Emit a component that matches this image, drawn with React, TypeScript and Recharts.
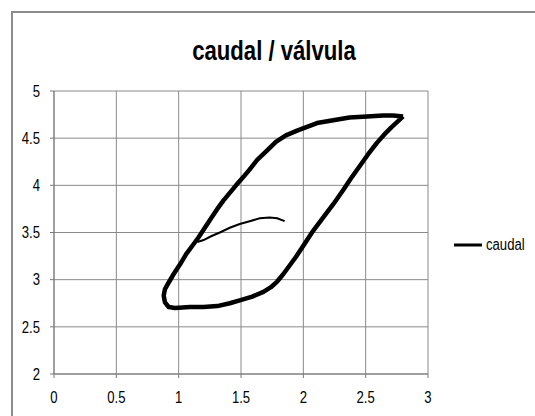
import { CartesianGrid, Scatter, ScatterChart, XAxis, YAxis } from "recharts";

const FONT = "'Liberation Sans', Arial, sans-serif";
const NARROW = 0.82;

const xTicks = [0, 0.5, 1, 1.5, 2, 2.5, 3];
const yTicks = [2, 2.5, 3, 3.5, 4, 4.5, 5];

// main hysteresis loop (starts at the top-right corner)
const loopX = [
  2.8, 2.72, 2.64, 2.51, 2.37, 2.24, 2.11, 2.03, 1.95, 1.86, 1.78, 1.71, 1.63,
  1.57, 1.52, 1.46, 1.41, 1.36, 1.31, 1.26, 1.21, 1.16, 1.11, 1.06, 1.01, 0.96,
  0.92, 0.89, 0.88, 0.89, 0.92, 0.97, 1.09, 1.2, 1.31, 1.41, 1.49, 1.59, 1.68,
  1.74, 1.79, 1.84, 1.89, 1.94, 2.0, 2.08, 2.16, 2.24, 2.32, 2.38, 2.45, 2.52,
  2.59, 2.65, 2.71, 2.76, 2.8,
];
const loopY = [
  4.73, 4.74, 4.74, 4.73, 4.72, 4.69, 4.66, 4.62, 4.58, 4.53, 4.46, 4.37, 4.27,
  4.17, 4.09, 4.0, 3.92, 3.84, 3.75, 3.65, 3.55, 3.45, 3.36, 3.27, 3.16, 3.06,
  2.97, 2.9, 2.83, 2.76, 2.71, 2.7, 2.71, 2.71, 2.72, 2.75, 2.78, 2.82, 2.87,
  2.92, 2.98, 3.06, 3.15, 3.24, 3.36, 3.52, 3.66, 3.8, 3.95, 4.07, 4.2, 4.33,
  4.45, 4.54, 4.62, 4.68, 4.73,
];

// thin first-pass segment inside the loop
const tailX = [1.15, 1.2, 1.26, 1.33, 1.41, 1.49, 1.57, 1.65, 1.73, 1.79, 1.85];
const tailY = [3.4, 3.42, 3.46, 3.5, 3.55, 3.59, 3.62, 3.65, 3.66, 3.65, 3.62];

const toPoints = (xs: number[], ys: number[]) =>
  xs.map((x, i) => ({ x, y: ys[i] }));

const loop = toPoints(loopX, loopY);
const tail = toPoints(tailX, tailY);

function NoDot() {
  return <g />;
}

// Calibri-like narrow tick label: squeeze Liberation Sans horizontally
function NarrowTick(props: any) {
  const { x, y, payload, textAnchor, orientation } = props;
  const dy = orientation === "bottom" ? "0.71em" : "0.355em";
  return (
    <g transform={`translate(${x},${y})`}>
      <text
        transform={`scale(${NARROW},1)`}
        textAnchor={textAnchor}
        dy={dy}
        fill="#000"
        fontSize={16}
        fontFamily={FONT}
      >
        {payload.value}
      </text>
    </g>
  );
}

export default function App() {
  return (
    <div
      style={{
        position: "fixed",
        left: 0,
        top: 0,
        width: 535,
        height: 416,
        overflow: "hidden",
        background: "#fff",
      }}
    >
      <div
        style={{
          position: "absolute",
          left: 11,
          top: 11,
          width: 600,
          height: 500,
          border: "2px solid #8c8c8c",
        }}
      />
      <div style={{ position: "absolute", left: 0, top: 0 }}>
        <ScatterChart
          width={535}
          height={416}
          margin={{ top: 91, right: 107, bottom: 0, left: 0 }}
        >
          <CartesianGrid stroke="#8a8a8a" strokeWidth={1} />
          <XAxis
            type="number"
            dataKey="x"
            domain={[0, 3]}
            ticks={xTicks}
            height={42}
            tickSize={4}
            tickMargin={14}
            stroke="#7a7a7a"
            tick={<NarrowTick orientation="bottom" />}
          />
          <YAxis
            type="number"
            dataKey="y"
            domain={[2, 5]}
            ticks={yTicks}
            width={54}
            tickSize={4}
            tickMargin={10}
            stroke="#7a7a7a"
            tick={<NarrowTick orientation="left" />}
          />
          <Scatter
            name="caudal"
            data={loop}
            line={{ stroke: "#000", strokeWidth: 4.5, strokeLinejoin: "round" }}
            shape={NoDot}
            isAnimationActive={false}
          />
          <Scatter
            name="caudal-tail"
            data={tail}
            line={{ stroke: "#000", strokeWidth: 2 }}
            shape={NoDot}
            isAnimationActive={false}
          />
        </ScatterChart>
      </div>
      <div
        style={{
          position: "absolute",
          left: 0,
          width: 548,
          top: 38,
          textAlign: "center",
          fontFamily: FONT,
          fontWeight: "bold",
          fontSize: 27,
          lineHeight: 1,
          color: "#000",
          transform: `scaleX(${NARROW})`,
          transformOrigin: "274px 0",
        }}
      >
        caudal / válvula
      </div>
      <div
        style={{
          position: "absolute",
          left: 454,
          top: 235,
          display: "flex",
          alignItems: "center",
          fontFamily: FONT,
          fontSize: 16,
          lineHeight: "20px",
          color: "#000",
        }}
      >
        <svg width={28} height={20}>
          <line x1={0} x2={28} y1={10} y2={10} stroke="#000" strokeWidth={3} />
        </svg>
        <span
          style={{
            marginLeft: 4,
            display: "inline-block",
            transform: `scaleX(${NARROW})`,
            transformOrigin: "0 0",
          }}
        >
          caudal
        </span>
      </div>
    </div>
  );
}
